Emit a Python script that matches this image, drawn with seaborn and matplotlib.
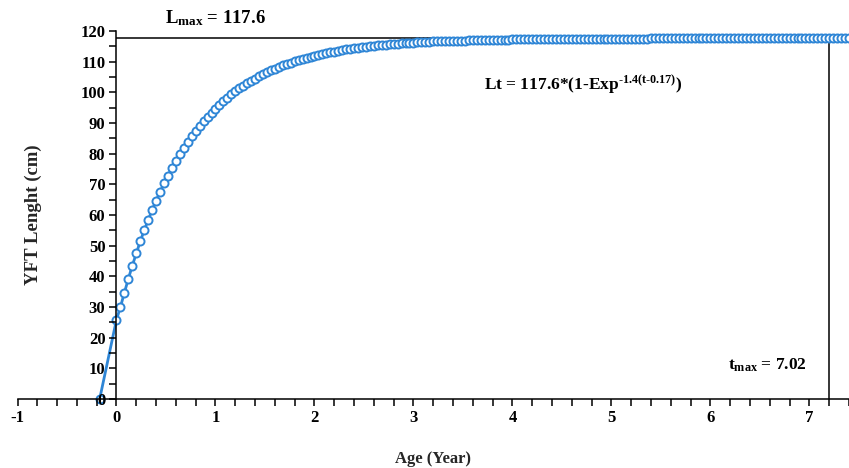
import matplotlib
matplotlib.use("Agg")
import matplotlib.pyplot as plt
import matplotlib.ticker as mticker
import pandas as pd
import seaborn as sns

# ── data ──────────────────────────────────────────────────────────────────────
T0 = -0.17          # age at length zero
AGE_STEP = 0.04     # spacing of the plotted points (years)
L_MAX = 117.6
T_LINE = 7.2        # position of the t_max marker line

GROWTH_LEN = [
    25.9, 30.0, 34.7, 39.2, 43.5, 47.5, 51.4, 55.0, 58.4, 61.6,
    64.7, 67.5, 70.3, 72.8, 75.3, 77.6, 79.8, 81.8, 83.8, 85.6,
    87.4, 89.0, 90.6, 92.0, 93.4, 94.7, 96.0, 97.2, 98.3, 99.3,
    100.3, 101.3, 102.2, 103.0, 103.8, 104.5, 105.3, 105.9, 106.6, 107.2,
    107.7, 108.3, 108.8, 109.3, 109.7, 110.1, 110.5, 110.9, 111.3, 111.6,
    112.0, 112.3, 112.6, 112.8, 113.1, 113.3, 113.6, 113.8, 114.0, 114.2,
    114.4, 114.6, 114.7, 114.9, 115.0, 115.2, 115.3, 115.4, 115.5, 115.7,
    115.8, 115.9, 116.0, 116.0, 116.1, 116.2, 116.3, 116.4, 116.4, 116.5,
    116.6, 116.6, 116.7, 116.7, 116.8, 116.8, 116.9, 116.9, 116.9, 117.0,
    117.0, 117.0, 117.1, 117.1, 117.1, 117.2, 117.2, 117.2, 117.2, 117.2,
    117.3, 117.3, 117.3, 117.3, 117.3, 117.3, 117.4, 117.4, 117.4, 117.4,
    117.4, 117.4, 117.4, 117.5, 117.5, 117.5, 117.5, 117.5, 117.5, 117.5,
    117.5, 117.5, 117.5, 117.5, 117.5, 117.5, 117.5, 117.5, 117.5, 117.5,
    117.5, 117.5, 117.5, 117.5, 117.5, 117.6, 117.6, 117.6, 117.6, 117.6,
] + [117.6] * 46

ages = [T0] + [round(i * AGE_STEP, 2) for i in range(len(GROWTH_LEN))]
lengths = [0.0] + GROWTH_LEN

X_TICKS = list(range(-1, 8))
Y_TICKS = list(range(0, 121, 10))

# ── theme ─────────────────────────────────────────────────────────────────────
BLUE = "#2f86d6"

sns.set_theme(style="ticks")
plt.rcParams.update({
    "font.family": ["Liberation Serif", "DejaVu Serif"],
    "font.weight": "bold",
    "axes.labelweight": "bold",
    "axes.unicode_minus": False,
    "mathtext.fontset": "custom",
    "mathtext.rm": "Liberation Serif:bold",
    "mathtext.bf": "Liberation Serif:bold",
    "mathtext.it": "Liberation Serif:bold",
    "axes.edgecolor": "black",
    "xtick.color": "black",
    "ytick.color": "black",
    "text.color": "black",
})

fig = plt.figure(figsize=(8.49, 4.68), dpi=100)
ax = fig.add_axes([17.5 / 849, 69 / 468, 1 - 17.5 / 849, 368 / 468])
ax.set_axisbelow(False)   # keep tick labels above the markers

df = pd.DataFrame({"age": ages, "length": lengths})
sns.lineplot(
    data=df, x="age", y="length", ax=ax, sort=False, estimator=None,
    color=BLUE, linewidth=2, marker="o", markersize=5.8,
    markerfacecolor="white", markeredgecolor=BLUE, markeredgewidth=1.4,
    clip_on=False, zorder=2.2,
)

x_right = 7.4
ax.hlines(L_MAX, 0, x_right, color="black", linewidth=1.1, zorder=2.1)
ax.vlines(T_LINE, 0, L_MAX, color="black", linewidth=1.1, zorder=2.1)

ax.set_xlim(-1, x_right)
ax.set_ylim(0, 120)

# axis lines cross at the origin
ax.spines["left"].set_position(("data", 0))
ax.spines["top"].set_visible(False)
ax.spines["right"].set_visible(False)
for sp in ("left", "bottom"):
    ax.spines[sp].set_linewidth(1.1)

ax.set_xticks(X_TICKS)
ax.set_yticks(Y_TICKS)
ax.xaxis.set_minor_locator(mticker.MultipleLocator(0.2))
ax.yaxis.set_minor_locator(mticker.MultipleLocator(5))
ax.tick_params(which="both", direction="out", length=5, width=1.1)
ax.tick_params(which="major", labelsize=12, pad=3)
for lbl in ax.get_xticklabels() + ax.get_yticklabels():
    lbl.set_fontweight("bold")

ax.set_xlabel("Age (Year)", fontsize=12, fontweight="bold", labelpad=18)
ax.set_ylabel("YFT Lenght (cm)", fontsize=13.5, fontweight="bold")
ax.yaxis.set_label_coords(0.03, 0.5)

ax.text(1.0, 124.3, "L$_{\\mathrm{max}}$ = 117.6", fontsize=13.5,
        ha="center", va="center", clip_on=False)
ax.text(4.71, 102.4, "Lt = 117.6*(1-Exp$^{\\text{-1.4(t-0.17)}}$)",
        fontsize=12.5, ha="center", va="center")
ax.text(6.98, 11, "t$_{\\mathrm{max}}$ = 7.02", fontsize=12.5,
        ha="right", va="center")

fig.savefig("out.png", dpi=100)
